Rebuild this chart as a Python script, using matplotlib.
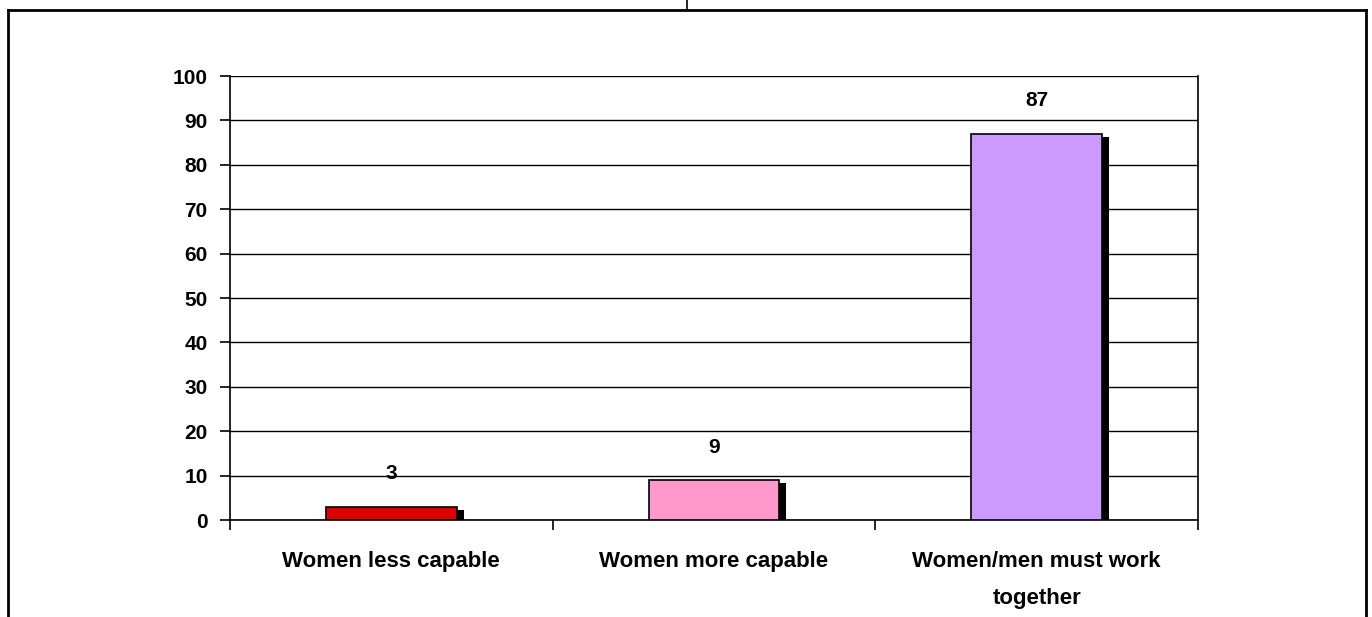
import matplotlib
matplotlib.use("Agg")
import matplotlib.pyplot as plt
import matplotlib.transforms as mtransforms
from matplotlib.lines import Line2D

categories = ["Women less capable", "Women more capable", "Women/men must work\ntogether"]
values = [3, 9, 87]
colors = ["#DD0000", "#FF99CC", "#CC99FF"]
y_ticks = list(range(0, 101, 10))

plt.rcParams["font.family"] = ["Liberation Sans", "DejaVu Sans"]
plt.rcParams["font.weight"] = "bold"

W, H, DPI = 1372, 617, 100
fig = plt.figure(figsize=(W / DPI, H / DPI), dpi=DPI)

# outer frame around the chart
frame_kw = dict(color="black", lw=2, transform=fig.transFigure, clip_on=False)
x0, x1 = 8 / W, 1366 / W
ytop = 1 - 10 / H
fig.add_artist(Line2D([x0, x1], [ytop, ytop], **frame_kw))
fig.add_artist(Line2D([x0, x0], [ytop, -0.01], **frame_kw))
fig.add_artist(Line2D([x1, x1], [ytop, -0.01], **frame_kw))
fig.add_artist(Line2D([687 / W, 687 / W], [ytop, 1.01], color="black", lw=1.2,
                      transform=fig.transFigure, clip_on=False))

left, right = 230 / W, 1198 / W
top, bottom = 1 - 76 / H, 1 - 520 / H
ax = fig.add_axes([left, bottom, right - left, top - bottom])

x = list(range(len(categories)))
width = 0.405

# drop shadows behind the bars
shadow = mtransforms.offset_copy(ax.transData, fig=fig, x=7, y=-3, units="dots")
ax.bar(x, values, width=width, color="black", transform=shadow, zorder=2)
ax.bar(x, values, width=width, color=colors, edgecolor="black", linewidth=1.2, zorder=3)

fs = 15
for xi, v in zip(x, values):
    ax.annotate(str(v), (xi, v), xytext=(0, 33), textcoords="offset pixels",
                ha="center", va="center", fontsize=fs, fontweight="bold")

ax.set_xlim(-0.5, 2.5)
ax.set_ylim(0, 100)
ax.set_yticks(y_ticks)
ax.set_yticklabels([str(t) for t in y_ticks], fontsize=fs, fontweight="bold")
ax.yaxis.grid(True, color="black", lw=1)
ax.set_axisbelow(True)
ax.tick_params(axis="y", direction="out", length=7.2, width=1.2, pad=9)

ax.set_xticks(x)
ax.set_xticklabels(categories, fontsize=16, fontweight="bold", linespacing=2.05)
ax.set_xticks([-0.5, 0.5, 1.5, 2.5], minor=True)
ax.tick_params(axis="x", which="major", length=0, pad=22)
ax.tick_params(axis="x", which="minor", direction="out", length=7.2, width=1.2)

for side in ["left", "right", "bottom"]:
    ax.spines[side].set_linewidth(1.2)
ax.spines["top"].set_visible(False)

fig.savefig("out.png", dpi=DPI)
